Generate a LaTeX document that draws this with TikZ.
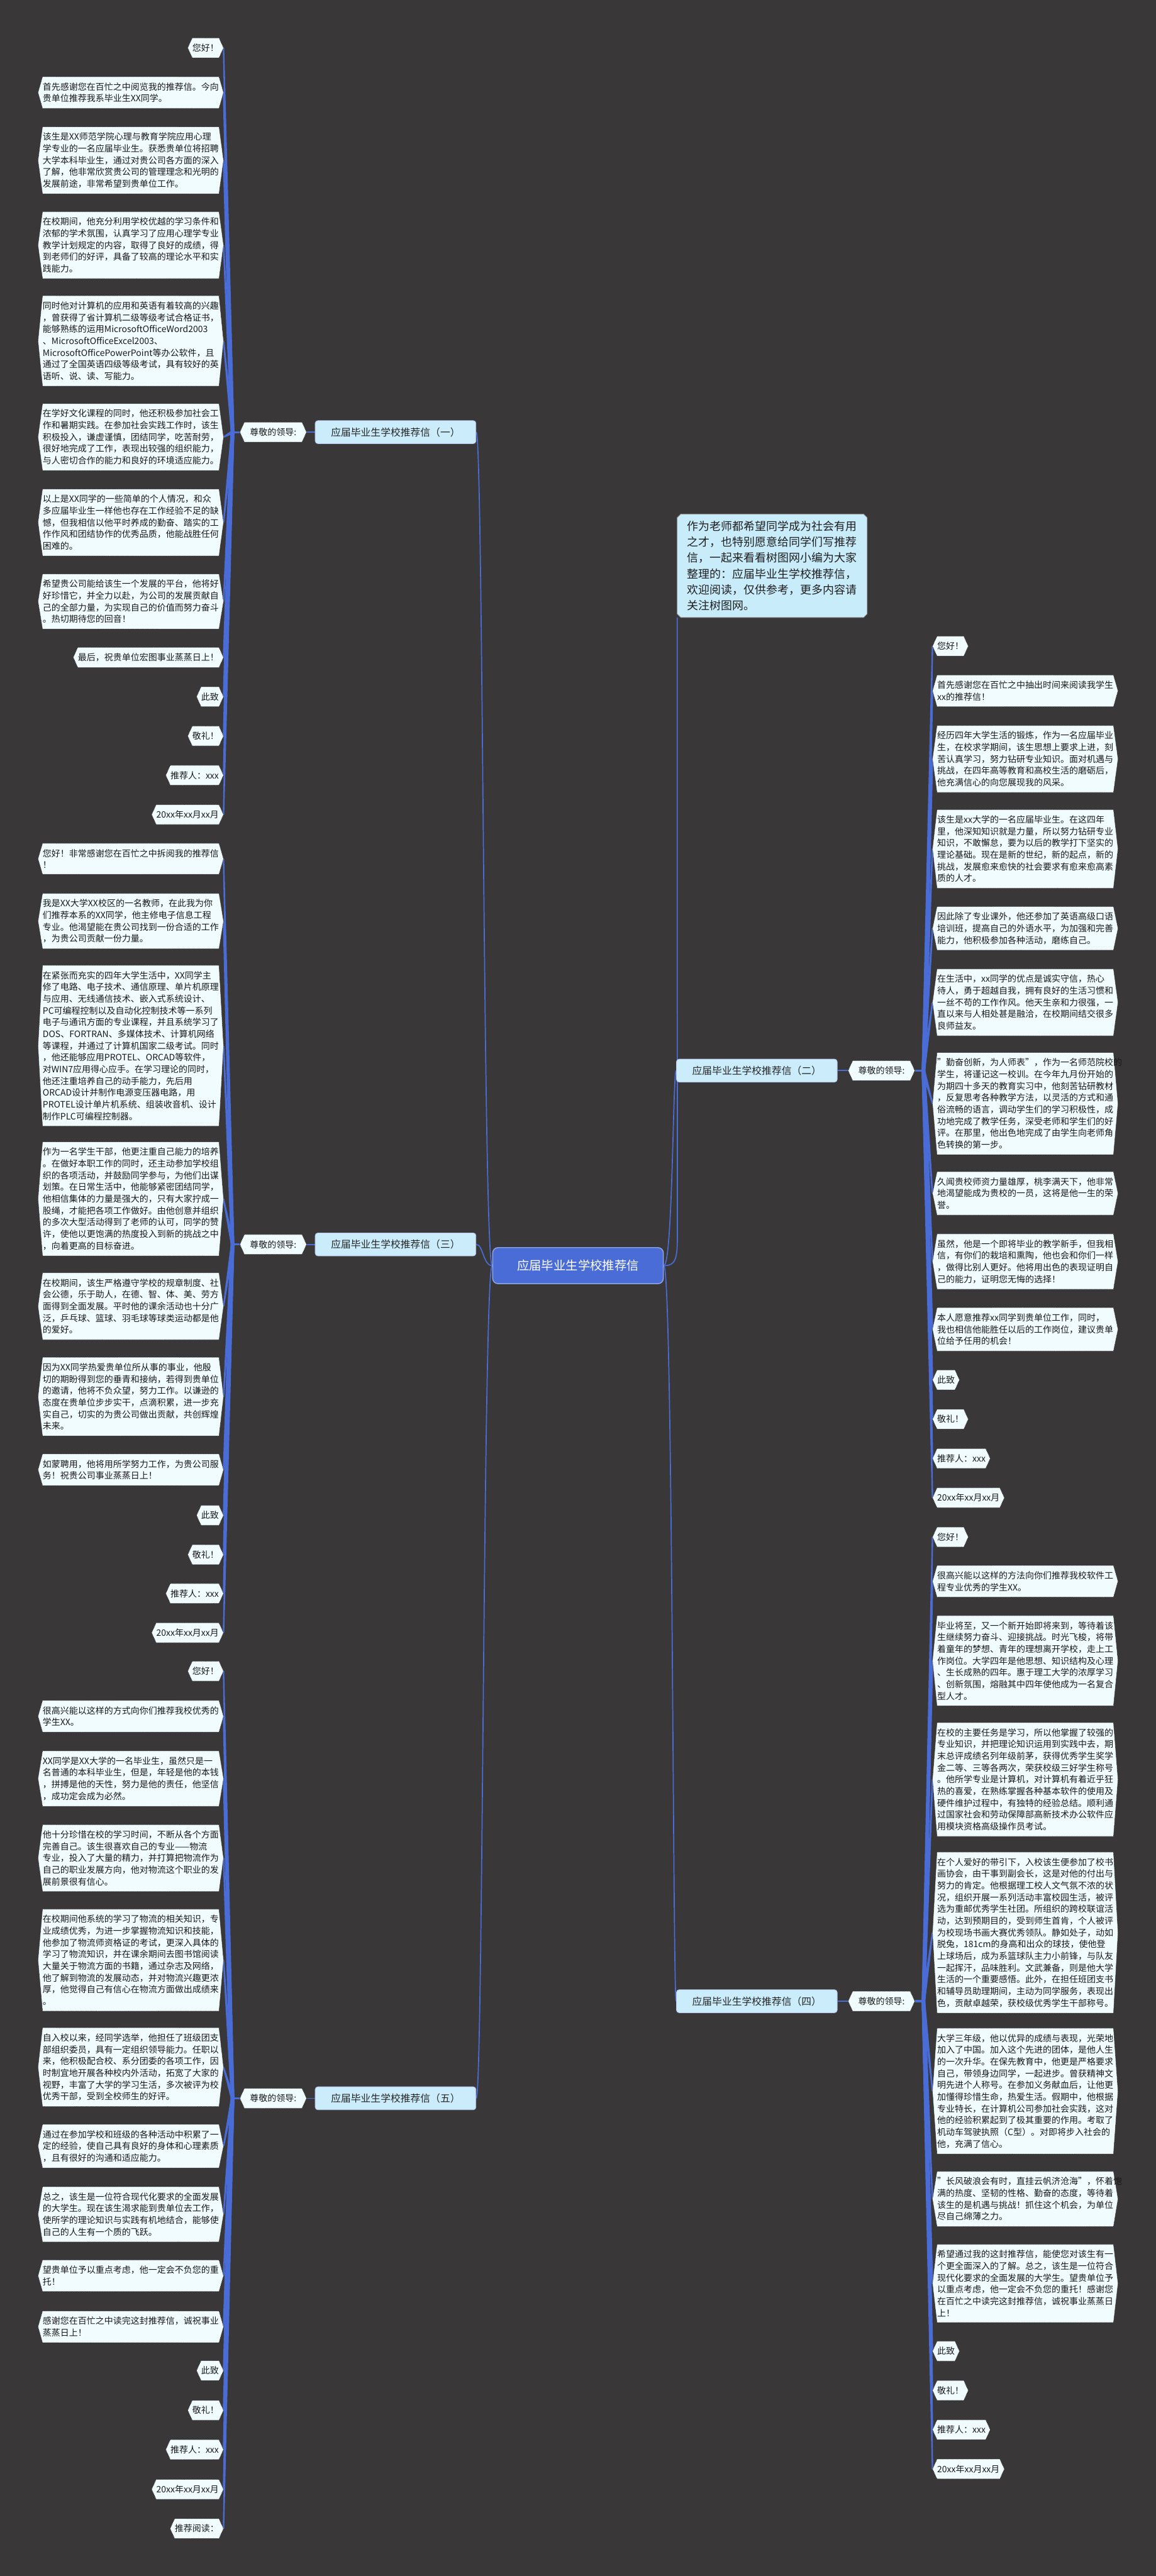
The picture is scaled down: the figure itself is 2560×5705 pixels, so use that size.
\documentclass[tikz,border=0pt]{standalone}
\usepackage{fontspec}
\setmainfont{Noto Sans CJK SC}
\usetikzlibrary{calc}
\pgfdeclarelayer{back}\pgfdeclarelayer{lines}\pgfdeclarelayer{bg}
\pgfsetlayers{back,lines,bg,main}
\definecolor{bgc}{HTML}{393738}
\definecolor{blu}{HTML}{4A6CD6}
\definecolor{leaffill}{HTML}{F0FCFE}
\definecolor{brfill}{HTML}{CBEDFB}
\definecolor{introfill}{HTML}{C9ECFB}
\tikzset{
 leafbase/.style={inner xsep=0pt, inner ysep=6.3pt, font=\fontsize{9.75pt}{13pt}\selectfont, text=black!90, align=left},
 ll/.style={leafbase, text width=195pt},
 ls/.style={leafbase},
 hexst/.style={fill=leaffill, draw=black!85, line width=0.5pt, dash pattern=on 0.7pt off 0.7pt},
 thinconn/.style={draw=blu, line width=1.2pt},
 stubconn/.style={draw=blu, line width=2.2pt},
 branchst/.style={fill=brfill, draw=blu!40, line width=0.6pt, rounded corners=3pt, font=\fontsize{11pt}{13pt}\selectfont, text=black!85, minimum width=178pt, minimum height=25.5pt, inner sep=0pt},
 centerst/.style={fill=blu, draw=blu!60!white, line width=1pt, rounded corners=6pt, font=\fontsize{13.5pt}{15pt}\selectfont, text=white, minimum width=189pt, minimum height=40pt, inner sep=0pt},
 introst/.style={font=\fontsize{12.5pt}{17.5pt}\selectfont, text=black!88, text width=188pt, align=left, inner xsep=11pt, inner ysep=7.5pt},
}
\newcommand\hexback[1]{\begin{pgfonlayer}{bg}\filldraw[hexst] (#1.north west) -- (#1.north east) -- ([xshift=5pt]#1.east) -- (#1.south east) -- (#1.south west) -- ([xshift=-5pt]#1.west) -- cycle;\end{pgfonlayer}}
\newcommand\fanto[2]{\begin{pgfonlayer}{lines}\fill[blu] ($(#1)!2pt!90:(#2)$) -- ($(#2)!0.8pt!-90:(#1)$) -- ($(#2)!0.8pt!90:(#1)$) -- ($(#1)!2pt!-90:(#2)$) -- cycle;\end{pgfonlayer}}
\newcommand\lleaf[5]{\node[#1,anchor=east] (#2) at (485,#3) {#5};\hexback{#2}\coordinate (#2-tip) at ([xshift=5pt]#2.east);\fanto{#4}{#2-tip}}
\newcommand\rleaf[5]{\node[#1,anchor=west] (#2) at (2075,#3) {#5};\hexback{#2}\coordinate (#2-tip) at ([xshift=-5pt]#2.west);\fanto{#4}{#2-tip}}
\begin{document}
\begin{tikzpicture}[x=0.5pt,y=-0.5pt]
\useasboundingbox (0,0) rectangle (2560,5705);
\begin{pgfonlayer}{back}\fill[bgc] (0,0) rectangle (2560,5705);\end{pgfonlayer}
% center
\node[centerst] (c) at (1280,2803) {应届毕业生学校推荐信};
% intro
\node[introst] (intro) at (1710,1253) {作为老师都希望同学成为社会有用\\之才，也特别愿意给同学们写推荐\\信，一起来看看树图网小编为大家\\整理的：应届毕业生学校推荐信，\\欢迎阅读，仅供参考，更多内容请\\关注树图网。};
\begin{pgfonlayer}{bg}
\filldraw[fill=introfill, draw=black!45, line width=0.6pt] ([xshift=4pt]intro.north west) -- ([xshift=-4pt]intro.north east) -- ([yshift=-4pt]intro.north east) -- ([yshift=4pt]intro.south east) -- ([xshift=-4pt]intro.south east) -- ([xshift=4pt]intro.south west) -- ([yshift=4pt]intro.south west) -- ([yshift=-4pt]intro.north west) -- cycle;
\end{pgfonlayer}
% branches
\node[branchst] (B1) at (876,957) {应届毕业生学校推荐信（一）};
\node[branchst] (B3) at (876,2756) {应届毕业生学校推荐信（三）};
\node[branchst] (B5) at (876,4647) {应届毕业生学校推荐信（五）};
\node[branchst] (B2) at (1676,2371) {应届毕业生学校推荐信（二）};
\node[branchst] (B4) at (1676,4432) {应届毕业生学校推荐信（四）};
% kid nodes
\foreach \k/\x/\y in {k1/605/957, k3/605/2756, k5/605/4647, k2/1952/2371, k4/1952/4432}{
 \node[ls, inner xsep=6pt] (\k) at (\x,\y) {尊敬的领导:};
 \hexback{\k}
 \coordinate (\k-l) at ([xshift=-5pt]\k.west);
 \coordinate (\k-r) at ([xshift=5pt]\k.east);
}
\coordinate (v1) at (515,957);
\coordinate (v3) at (515,2756);
\coordinate (v5) at (515,4647);
\coordinate (v2) at (2045,2371);
\coordinate (v4) at (2045,4432);
\coordinate (ib) at (1500,2740);
\begin{pgfonlayer}{lines}
\draw[thinconn] (c.west) .. controls (1070,2803) and (1070,957) .. (B1.east);
\draw[thinconn] (c.west) .. controls (1070,2803) and (1070,2756) .. (B3.east);
\draw[thinconn] (c.west) .. controls (1070,2803) and (1070,4647) .. (B5.east);
\draw[thinconn] (c.east) .. controls (1490,2803) and (1490,2371) .. (B2.west);
\draw[thinconn] (c.east) .. controls (1490,2803) and (1490,4432) .. (B4.west);
\draw[thinconn] (c.east) .. controls (1495,2803) and (1500,2790) .. (ib) -- (intro.south west);
\draw[thinconn] (B1.west) -- (k1-r);
\draw[thinconn] (B3.west) -- (k3-r);
\draw[thinconn] (B5.west) -- (k5-r);
\draw[thinconn] (B2.east) -- (k2-l);
\draw[thinconn] (B4.east) -- (k4-l);
\draw[stubconn] (k1-l) -- (v1);
\draw[stubconn] (k3-l) -- (v3);
\draw[stubconn] (k5-l) -- (v5);
\draw[stubconn] (k2-r) -- (v2);
\draw[stubconn] (k4-r) -- (v4);
\end{pgfonlayer}
% ---------- branch 1 leaves
\lleaf{ls}{L1a}{106}{v1}{您好！}
\lleaf{ll}{L1b}{205}{v1}{首先感谢您在百忙之中阅览我的推荐信。今向\\贵单位推荐我系毕业生XX同学。}
\lleaf{ll}{L1c}{355}{v1}{该生是XX师范学院心理与教育学院应用心理\\学专业的一名应届毕业生。获悉贵单位将招聘\\大学本科毕业生，通过对贵公司各方面的深入\\了解，他非常欣赏贵公司的管理理念和光明的\\发展前途，非常希望到贵单位工作。}
\lleaf{ll}{L1d}{543}{v1}{在校期间，他充分利用学校优越的学习条件和\\浓郁的学术氛围，认真学习了应用心理学专业\\教学计划规定的内容，取得了良好的成绩，得\\到老师们的好评，具备了较高的理论水平和实\\践能力。}
\lleaf{ll}{L1e}{755}{v1}{同时他对计算机的应用和英语有着较高的兴趣\\，曾获得了省计算机二级等级考试合格证书，\\能够熟练的运用MicrosoftOfficeWord2003\\、MicrosoftOfficeExcel2003、\\MicrosoftOfficePowerPoint等办公软件，且\\通过了全国英语四级等级考试，具有较好的英\\语听、说、读、写能力。}
\lleaf{ll}{L1f}{968}{v1}{在学好文化课程的同时，他还积极参加社会工\\作和暑期实践。在参加社会实践工作时，该生\\积极投入，谦虚谨慎，团结同学，吃苦耐劳，\\很好地完成了工作，表现出较强的组织能力，\\与人密切合作的能力和良好的环境适应能力。}
\lleaf{ll}{L1g}{1157}{v1}{以上是XX同学的一些简单的个人情况，和众\\多应届毕业生一样他也存在工作经验不足的缺\\憾，但我相信以他平时养成的勤奋、踏实的工\\作作风和团结协作的优秀品质，他能战胜任何\\困难的。}
\lleaf{ll}{L1h}{1332}{v1}{希望贵公司能给该生一个发展的平台，他将好\\好珍惜它，并全力以赴，为公司的发展贡献自\\己的全部力量，为实现自己的价值而努力奋斗\\。热切期待您的回音！}
\lleaf{ls}{L1i}{1456}{v1}{最后，祝贵单位宏图事业蒸蒸日上！}
\lleaf{ls}{L1j}{1543}{v1}{此致}
\lleaf{ls}{L1k}{1630}{v1}{敬礼！}
\lleaf{ls}{L1l}{1717}{v1}{推荐人：xxx}
\lleaf{ls}{L1m}{1804}{v1}{20xx年xx月xx月}
% ---------- branch 3 leaves
\lleaf{ll}{L3a}{1902}{v3}{您好！非常感谢您在百忙之中拆阅我的推荐信\\！}
\lleaf{ll}{L3b}{2040}{v3}{我是XX大学XX校区的一名教师，在此我为你\\们推荐本系的XX同学，他主修电子信息工程\\专业。他渴望能在贵公司找到一份合适的工作\\，为贵公司贡献一份力量。}
\lleaf{ll}{L3c}{2316}{v3}{在紧张而充实的四年大学生活中，XX同学主\\修了电路、电子技术、通信原理、单片机原理\\与应用、无线通信技术、嵌入式系统设计、\\PC可编程控制以及自动化控制技术等一系列\\电子与通讯方面的专业课程，并且系统学习了\\DOS、FORTRAN、多媒体技术、计算机网络\\等课程，并通过了计算机国家二级考试。同时\\，他还能够应用PROTEL、ORCAD等软件，\\对WIN7应用得心应手。在学习理论的同时，\\他还注重培养自己的动手能力，先后用\\ORCAD设计并制作电源变压器电路，用\\PROTEL设计单片机系统、组装收音机、设计\\制作PLC可编程控制器。}
\lleaf{ll}{L3d}{2655}{v3}{作为一名学生干部，他更注重自己能力的培养\\。在做好本职工作的同时，还主动参加学校组\\织的各项活动，并鼓励同学参与，为他们出谋\\划策。在日常生活中，他能够紧密团结同学，\\他相信集体的力量是强大的，只有大家拧成一\\股绳，才能把各项工作做好。由他创意并组织\\的多次大型活动得到了老师的认可，同学的赞\\许，使他以更饱满的热度投入到新的挑战之中\\，向着更高的目标奋进。}
\lleaf{ll}{L3e}{2893}{v3}{在校期间，该生严格遵守学校的规章制度、社\\会公德，乐于助人，在德、智、体、美、劳方\\面得到全面发展。平时他的课余活动也十分广\\泛，乒乓球、篮球、羽毛球等球类运动都是他\\的爱好。}
\lleaf{ll}{L3f}{3093}{v3}{因为XX同学热爱贵单位所从事的事业，他殷\\切的期盼得到您的垂青和接纳，若得到贵单位\\的邀请，他将不负众望，努力工作。以谦逊的\\态度在贵单位步步实干，点滴积累，进一步充\\实自己，切实的为贵公司做出贡献，共创辉煌\\未来。}
\lleaf{ll}{L3g}{3255}{v3}{如蒙聘用，他将用所学努力工作，为贵公司服\\务！祝贵公司事业蒸蒸日上！}
\lleaf{ls}{L3h}{3356}{v3}{此致}
\lleaf{ls}{L3i}{3443}{v3}{敬礼！}
\lleaf{ls}{L3j}{3529}{v3}{推荐人：xxx}
\lleaf{ls}{L3k}{3616}{v3}{20xx年xx月xx月}
% ---------- branch 5 leaves
\lleaf{ls}{L5a}{3701}{v5}{您好！}
\lleaf{ll}{L5b}{3801}{v5}{很高兴能以这样的方式向你们推荐我校优秀的\\学生XX。}
\lleaf{ll}{L5c}{3939}{v5}{XX同学是XX大学的一名毕业生，虽然只是一\\名普通的本科毕业生，但是，年轻是他的本钱\\，拼搏是他的天性，努力是他的责任，他坚信\\，成功定会成为必然。}
\lleaf{ll}{L5d}{4115}{v5}{他十分珍惜在校的学习时间，不断从各个方面\\完善自己。该生很喜欢自己的专业——物流\\专业，投入了大量的精力，并打算把物流作为\\自己的职业发展方向，他对物流这个职业的发\\展前景很有信心。}
\lleaf{ll}{L5e}{4341}{v5}{在校期间他系统的学习了物流的相关知识，专\\业成绩优秀，为进一步掌握物流知识和技能，\\他参加了物流师资格证的考试，更深入具体的\\学习了物流知识，并在课余期间去图书馆阅读\\大量关于物流方面的书籍，通过杂志及网络，\\他了解到物流的发展动态，并对物流兴趣更浓\\厚，他觉得自己有信心在物流方面做出成绩来\\。}
\lleaf{ll}{L5f}{4578}{v5}{自入校以来，经同学选举，他担任了班级团支\\部组织委员，具有一定组织领导能力。任职以\\来，他积极配合校、系分团委的各项工作，因\\时制宜地开展各种校内外活动，拓宽了大家的\\视野，丰富了大学的学习生活，多次被评为校\\优秀干部，受到全校师生的好评。}
\lleaf{ll}{L5g}{4753}{v5}{通过在参加学校和班级的各种活动中积累了一\\定的经验，使自己具有良好的身体和心理素质\\，且有很好的沟通和适应能力。}
\lleaf{ll}{L5h}{4904}{v5}{总之，该生是一位符合现代化要求的全面发展\\的大学生。现在该生渴求能到贵单位去工作，\\使所学的理论知识与实践有机地结合，能够使\\自己的人生有一个质的飞跃。}
\lleaf{ll}{L5i}{5040}{v5}{望贵单位予以重点考虑，他一定会不负您的重\\托！}
\lleaf{ll}{L5j}{5153}{v5}{感谢您在百忙之中读完这封推荐信，诚祝事业\\蒸蒸日上！}
\lleaf{ls}{L5k}{5250}{v5}{此致}
\lleaf{ls}{L5l}{5338}{v5}{敬礼！}
\lleaf{ls}{L5m}{5425}{v5}{推荐人：xxx}
\lleaf{ls}{L5n}{5513}{v5}{20xx年xx月xx月}
\lleaf{ls}{L5o}{5600}{v5}{推荐阅读：}
% ---------- branch 2 leaves
\rleaf{ls}{R2a}{1431}{v2}{您好！}
\rleaf{ll}{R2b}{1530}{v2}{首先感谢您在百忙之中抽出时间来阅读我学生\\xx的推荐信！}
\rleaf{ll}{R2c}{1681}{v2}{经历四年大学生活的锻炼，作为一名应届毕业\\生，在校求学期间，该生思想上要求上进，刻\\苦认真学习，努力钻研专业知识。面对机遇与\\挑战，在四年高等教育和高校生活的磨砺后，\\他充满信心的向您展现我的风采。}
\rleaf{ll}{R2d}{1880}{v2}{该生是xx大学的一名应届毕业生。在这四年\\里，他深知知识就是力量，所以努力钻研专业\\知识，不敢懈怠，要为以后的教学打下坚实的\\理论基础。现在是新的世纪，新的起点，新的\\挑战，发展愈来愈快的社会要求有愈来愈高素\\质的人才。}
\rleaf{ll}{R2e}{2056}{v2}{因此除了专业课外，他还参加了英语高级口语\\培训班，提高自己的外语水平，为加强和完善\\能力，他积极参加各种活动，磨练自己。}
\rleaf{ll}{R2f}{2220}{v2}{在生活中，xx同学的优点是诚实守信，热心\\待人，勇于超越自我，拥有良好的生活习惯和\\一丝不苟的工作作风。他天生亲和力很强，一\\直以来与人相处甚是融洽，在校期间结交很多\\良师益友。}
\rleaf{ll}{R2g}{2444}{v2}{"勤奋创新，为人师表"，作为一名师范院校的\\学生，将谨记这一校训。在今年九月份开始的\\为期四十多天的教育实习中，他刻苦钻研教材\\，反复思考各种教学方法，以灵活的方式和通\\俗流畅的语言，调动学生们的学习积极性，成\\功地完成了教学任务，深受老师和学生们的好\\评。在那里，他出色地完成了由学生向老师角\\色转换的第一步。}
\rleaf{ll}{R2h}{2643}{v2}{久闻贵校师资力量雄厚，桃李满天下，他非常\\地渴望能成为贵校的一员，这将是他一生的荣\\誉。}
\rleaf{ll}{R2i}{2794}{v2}{虽然，他是一个即将毕业的教学新手，但我相\\信，有你们的栽培和熏陶，他也会和你们一样\\，做得比别人更好。他将用出色的表现证明自\\己的能力，证明您无悔的选择！}
\rleaf{ll}{R2j}{2944}{v2}{本人愿意推荐xx同学到贵单位工作，同时，\\我也相信他能胜任以后的工作岗位，建议贵单\\位给予任用的机会！}
\rleaf{ls}{R2k}{3056}{v2}{此致}
\rleaf{ls}{R2l}{3143}{v2}{敬礼！}
\rleaf{ls}{R2m}{3230}{v2}{推荐人：xxx}
\rleaf{ls}{R2n}{3317}{v2}{20xx年xx月xx月}
% ---------- branch 4 leaves
\rleaf{ls}{R4a}{3404}{v4}{您好！}
\rleaf{ll}{R4b}{3502}{v4}{很高兴能以这样的方法向你们推荐我校软件工\\程专业优秀的学生XX。}
\rleaf{ll}{R4c}{3678}{v4}{毕业将至，又一个新开始即将来到，等待着该\\生继续努力奋斗、迎接挑战。时光飞梭，将带\\着童年的梦想、青年的理想离开学校，走上工\\作岗位。大学四年是他思想、知识结构及心理\\、生长成熟的四年。惠于理工大学的浓厚学习\\、创新氛围，熔融其中四年使他成为一名复合\\型人才。}
\rleaf{ll}{R4d}{3941}{v4}{在校的主要任务是学习，所以他掌握了较强的\\专业知识，并把理论知识运用到实践中去，期\\末总评成绩名列年级前茅，获得优秀学生奖学\\金二等、三等各两次，荣获校级三好学生称号\\。他所学专业是计算机，对计算机有着近乎狂\\热的喜爱，在熟练掌握各种基本软件的使用及\\硬件维护过程中，有独特的经验总结。顺利通\\过国家社会和劳动保障部高新技术办公软件应\\用模块资格高级操作员考试。}
\rleaf{ll}{R4e}{4280}{v4}{在个人爱好的带引下，入校该生便参加了校书\\画协会，由干事到副会长，这是对他的付出与\\努力的肯定。他根据理工校人文气氛不浓的状\\况，组织开展一系列活动丰富校园生活，被评\\选为重邮优秀学生社团。所组织的跨校联谊活\\动，达到预期目的，受到师生首肯，个人被评\\为校现场书画大赛优秀领队。静如处子，动如\\脱兔，181cm的身高和出众的球技，使他登\\上球场后，成为系篮球队主力小前锋，与队友\\一起挥汗，品味胜利。文武兼备，则是他大学\\生活的一个重要感悟。此外，在担任班团支书\\和辅导员助理期间，主动为同学服务，表现出\\色，贡献卓越荣，获校级优秀学生干部称号。}
\rleaf{ll}{R4f}{4631}{v4}{大学三年级，他以优异的成绩与表现，光荣地\\加入了中国。加入这个先进的团体，是他人生\\的一次升华。在保先教育中，他更是严格要求\\自己，带领身边同学，一起进步。曾获精神文\\明先进个人称号。在参加义务献血后，让他更\\加懂得珍惜生命，热爱生活。假期中，他根据\\专业特长，在计算机公司参加社会实践，这对\\他的经验积累起到了极其重要的作用。考取了\\机动车驾驶执照（C型）。对即将步入社会的\\他，充满了信心。}
\rleaf{ll}{R4g}{4870}{v4}{"长风破浪会有时，直挂云帆济沧海"，怀着饱\\满的热度、坚韧的性格、勤奋的态度，等待着\\该生的是机遇与挑战！抓住这个机会，为单位\\尽自己绵薄之力。}
\rleaf{ll}{R4h}{5057}{v4}{希望通过我的这封推荐信，能使您对该生有一\\个更全面深入的了解。总之，该生是一位符合\\现代化要求的全面发展的大学生。望贵单位予\\以重点考虑，他一定会不负您的重托！感谢您\\在百忙之中读完这封推荐信，诚祝事业蒸蒸日\\上！}
\rleaf{ls}{R4i}{5207}{v4}{此致}
\rleaf{ls}{R4j}{5294}{v4}{敬礼！}
\rleaf{ls}{R4k}{5381}{v4}{推荐人：xxx}
\rleaf{ls}{R4l}{5468}{v4}{20xx年xx月xx月}
\end{tikzpicture}
\end{document}
